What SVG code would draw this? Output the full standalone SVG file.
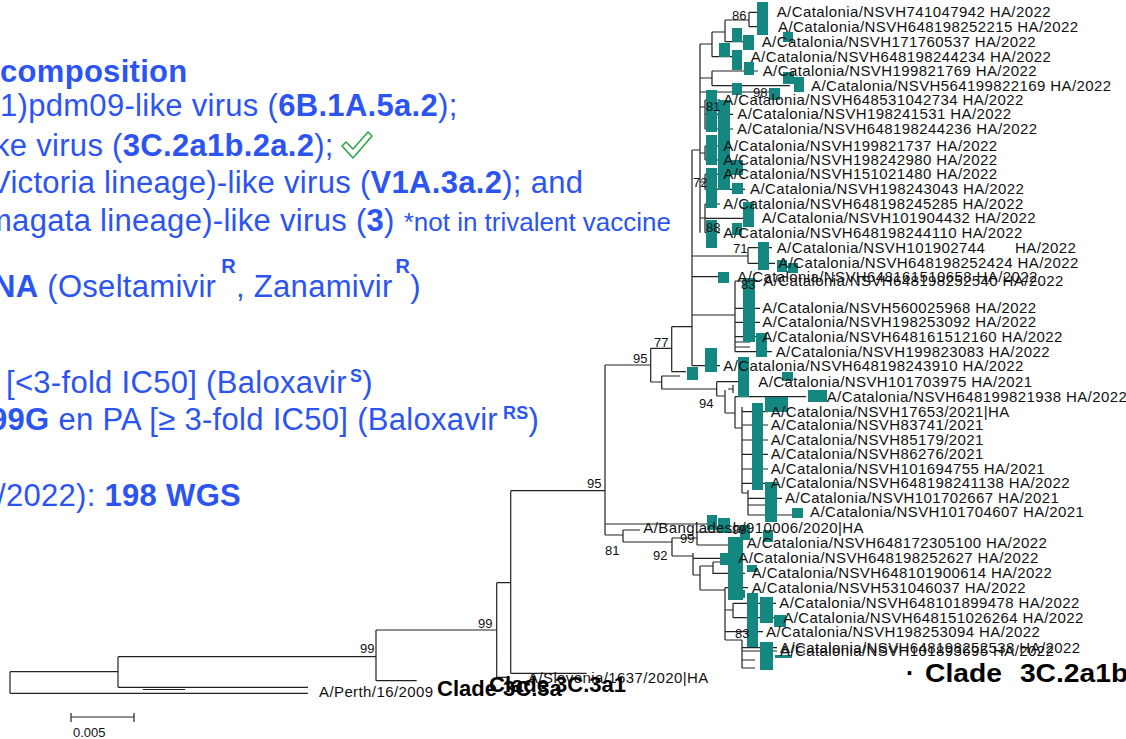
<svg xmlns="http://www.w3.org/2000/svg" width="1126" height="739" viewBox="0 0 1126 739">
<style>
.bl{fill:#2b54f2;font-family:"Liberation Sans",Arial,sans-serif;font-size:31px;letter-spacing:0.3px}
.bd{font-weight:bold}
.tl{fill:#111;font-family:"Liberation Sans",Arial,sans-serif;font-size:15px;letter-spacing:0.4px}
.bs{fill:#111;font-family:"Liberation Sans",Arial,sans-serif;font-size:13px}
.cl{fill:#000;font-family:"Liberation Sans",Arial,sans-serif;font-weight:bold}
.br{fill:none;stroke:#222;stroke-width:1.2}
.tq{fill:#138780}
</style>
<rect width="1126" height="739" fill="#fff"/>
<g id="text-panel">
<text class="bl bd" x="0" y="82" font-size="28" letter-spacing="0.1">composition</text>
<text class="bl" x="0" y="116">1)pdm09-like virus (<tspan class="bd">6B.1A.5a.2</tspan>);</text>
<text class="bl" x="-6" y="156">ke virus (<tspan class="bd">3C.2a1b.2a.2</tspan>);</text>
<polygon points="342,146 346,142 353,149 368,132 372,136 353,158" fill="none" stroke="#2aa84a" stroke-width="1.6" stroke-linejoin="round"/>
<text class="bl" x="-10" y="193">Victoria lineage)-like virus (<tspan class="bd">V1A.3a.2</tspan>); and</text>
<text class="bl" x="-14" y="231">magata lineage)-like virus (<tspan class="bd">3</tspan>) <tspan font-size="26" letter-spacing="0">*not in trivalent vaccine</tspan></text>
<text class="bl" x="-7" y="297"><tspan class="bd">NA</tspan> (Oseltamivir<tspan class="bd" font-size="20" dx="5" dy="-24">R</tspan><tspan dy="24">, Zanamivir</tspan><tspan class="bd" font-size="20" dx="3" dy="-24">R</tspan><tspan dy="24">)</tspan></text>
<text class="bl" x="6" y="393">[&lt;3-fold IC50] (Baloxavir<tspan class="bd" font-size="18" dx="3" dy="-11">S</tspan><tspan dy="11">)</tspan></text>
<text class="bl" x="-10" y="430"><tspan class="bd">99G</tspan> en PA [≥ 3-fold IC50] (Baloxavir<tspan class="bd" font-size="18" dx="5" dy="-11">RS</tspan><tspan dy="11">)</tspan></text>
<text class="bl" x="-3" y="506">/2022): <tspan class="bd">198 WGS</tspan></text>
</g>
<g id="connectors">
<path class="br" d="M10 671.7V693.3M10 671.7H118M10 693.3H308M118 656.7V687.3M118 687.3H308M118 656.7H376M376 630V680.7M376 630H496.7M376 680.7H416.7M496.7 582.7V677.3M496.7 582.7H510.7M496.7 677.3H506.7M510.7 490.7V673.3M510.7 490.7H605M510.7 673.3H586.7
M605 365V535M605 365H650.7M605 524H708M605 535H623M623 530V542M623 530H640M623 542H672M672 538V556M672 538H697M697 532V545M697 532H747M697 545H728M672 556H693M693 553V575M693 558.3H728M693 575H700M700 566V590M700 566H713M713 562V574M713 562H728M713 573.3H745M700 590H725M725 587.7V640M725 587.7H748M725 610H733M733 603.3V617.7M733 603.3H776M733 617.7H780M725 631.7H763M725 640H742M742 640V668M742 647.7H777M742 651H777M742 660H755M742 668H755
M650.7 348.3V382M650.7 348.3H671.7M650.7 382H661.7M661.7 376V389M661.7 376H680M661.7 389H716.7M716.7 381.7V396M716.7 381.7H740M716.7 396H725M725 390V413M728 389H733M733 385V393M725 413H735M735 396.7V428M735 396.7H806M735 428H742M742 407V493M742 411.7H768M742 425H768M742 440H768M742 454.3H768M742 469H768M742 483.3H768M742 493H748M748 490V515M748 498.3H782M748 505H765M748 515H792
M671.7 326.7V371.7M671.7 326.7H692M671.7 371.7H686M692 150V365.7M692 150H700M700 44V232.7
M700 44H712M712 32V56.7M712 32H725M725 20V41.7M725 20H749M749 12.3V26.7M749 12.3H757M749 26.7H757M725 41.7H745M712 56.7H732
M700 78H712M712 71V85.7M712 71H758M712 85.7H790M700 92H770
M700 107H705M705 100V129M705 100H720M705 114.3H733M705 129H733
M700 153H705M705 146V160M705 146H720M705 160H720
M700 182H705M705 174.3V189.3M705 174.3H720M705 189.3H745
M700 218H705M705 204V232.7M705 204H720M705 218.3H745M705 232.7H720
M692 256H748M748 247.7V263.3M748 247.7H772M748 263.3H775M692 276.7H718
M692 315H735M735 281V351.7M735 281H760M735 308.3H760M735 322.3H760M735 336.7H760M735 342H750M735 347H750M735 351.7H772M692 365.7H720"/>
<path class="br" d="M143 689.5H185" stroke-width="0.9"/>
<path class="br" d="M71 717H134M71 713V722M134 713V722"/>
</g>
<g id="highlights">
<rect class="tq" x="757" y="2" width="11" height="33"/>
<rect class="tq" x="783" y="32" width="10" height="10"/>
<rect class="tq" x="732" y="28" width="10" height="14"/>
<rect class="tq" x="743" y="35" width="11" height="15"/>
<rect class="tq" x="719" y="43" width="11" height="14"/>
<rect class="tq" x="732" y="50" width="10" height="20"/>
<rect class="tq" x="744" y="62" width="10" height="13"/>
<rect class="tq" x="783" y="72" width="11" height="12"/>
<rect class="tq" x="794" y="77" width="10" height="15"/>
<rect class="tq" x="732" y="83" width="10" height="12"/>
<rect class="tq" x="769" y="88" width="11" height="12"/>
<rect class="tq" x="706" y="90" width="11" height="42"/>
<rect class="tq" x="718" y="100" width="12" height="90"/>
<rect class="tq" x="706" y="135" width="11" height="30"/>
<rect class="tq" x="706" y="168" width="11" height="40"/>
<rect class="tq" x="730" y="160" width="13" height="15"/>
<rect class="tq" x="732" y="183" width="11" height="11"/>
<rect class="tq" x="743" y="202" width="11" height="25"/>
<rect class="tq" x="732" y="223" width="10" height="12"/>
<rect class="tq" x="706" y="220" width="11" height="28"/>
<rect class="tq" x="758" y="242" width="11" height="28"/>
<rect class="tq" x="777" y="260" width="10" height="12"/>
<rect class="tq" x="788" y="263" width="10" height="10"/>
<rect class="tq" x="718" y="272" width="11" height="11"/>
<rect class="tq" x="743" y="278" width="12" height="64"/>
<rect class="tq" x="756" y="333" width="11" height="24"/>
<rect class="tq" x="705" y="348" width="12" height="24"/>
<rect class="tq" x="687" y="367" width="11" height="13"/>
<rect class="tq" x="738" y="357" width="11" height="40"/>
<rect class="tq" x="782" y="372" width="11" height="9"/>
<rect class="tq" x="808" y="390" width="19" height="12"/>
<rect class="tq" x="765" y="397" width="23" height="15"/>
<rect class="tq" x="752" y="403" width="11" height="87"/>
<rect class="tq" x="765" y="482" width="12" height="40"/>
<rect class="tq" x="792" y="508" width="11" height="10"/>
<rect class="tq" x="707" y="515" width="10" height="15"/>
<rect class="tq" x="718" y="518" width="12" height="15"/>
<rect class="tq" x="740" y="525" width="10" height="15"/>
<rect class="tq" x="763" y="530" width="10" height="12"/>
<rect class="tq" x="728" y="537" width="15" height="63"/>
<rect class="tq" x="720" y="553" width="10" height="12"/>
<rect class="tq" x="747" y="565" width="10" height="7"/>
<rect class="tq" x="732" y="590" width="13" height="8"/>
<rect class="tq" x="747" y="593" width="11" height="17"/>
<rect class="tq" x="760" y="597" width="13" height="26"/>
<rect class="tq" x="747" y="607" width="11" height="40"/>
<rect class="tq" x="774" y="615" width="12" height="12"/>
<rect class="tq" x="760" y="642" width="13" height="28"/>
<rect class="tq" x="775" y="655" width="17" height="3"/>
</g>
<g id="tree-labels">
<text class="tl" x="776.7" y="17.3">A/Catalonia/NSVH741047942 HA/2022</text>
<text class="tl" x="778" y="31.7">A/Catalonia/NSVH648198252215 HA/2022</text>
<text class="tl" x="761.7" y="46.7">A/Catalonia/NSVH171760537 HA/2022</text>
<text class="tl" x="750.7" y="61.7">A/Catalonia/NSVH648198244234 HA/2022</text>
<text class="tl" x="762.7" y="76">A/Catalonia/NSVH199821769 HA/2022</text>
<text class="tl" x="811" y="90.7">A/Catalonia/NSVH564199822169 HA/2022</text>
<text class="tl" x="723.3" y="105">A/Catalonia/NSVH648531042734 HA/2022</text>
<text class="tl" x="737.3" y="119.3">A/Catalonia/NSVH198241531 HA/2022</text>
<text class="tl" x="737" y="134">A/Catalonia/NSVH648198244236 HA/2022</text>
<text class="tl" x="723.3" y="151">A/Catalonia/NSVH199821737 HA/2022</text>
<text class="tl" x="723.3" y="165">A/Catalonia/NSVH198242980 HA/2022</text>
<text class="tl" x="723.3" y="179.3">A/Catalonia/NSVH151021480 HA/2022</text>
<text class="tl" x="750" y="194.3">A/Catalonia/NSVH198243043 HA/2022</text>
<text class="tl" x="723.3" y="209">A/Catalonia/NSVH648198245285 HA/2022</text>
<text class="tl" x="761.7" y="223.3">A/Catalonia/NSVH101904432 HA/2022</text>
<text class="tl" x="723.3" y="237.7">A/Catalonia/NSVH648198244110 HA/2022</text>
<text class="tl" x="776.7" y="252.7">A/Catalonia/NSVH101902744<tspan x="1015">HA/2022</tspan></text>
<text class="tl" x="778.3" y="268.3">A/Catalonia/NSVH648198252424 HA/2022</text>
<text class="tl" x="737.3" y="281.7">A/Catalonia/NSVH648161510658 HA/2022</text>
<text class="tl" x="763.3" y="286">A/Catalonia/NSVH648198252540 HA/2022</text>
<text class="tl" x="762.3" y="313.3">A/Catalonia/NSVH560025968 HA/2022</text>
<text class="tl" x="762.3" y="327.3">A/Catalonia/NSVH198253092 HA/2022</text>
<text class="tl" x="762.3" y="341.7">A/Catalonia/NSVH648161512160 HA/2022</text>
<text class="tl" x="775.7" y="356.7">A/Catalonia/NSVH199823083 HA/2022</text>
<text class="tl" x="723.3" y="370.7">A/Catalonia/NSVH648198243910 HA/2022</text>
<text class="tl" x="758.3" y="386.7">A/Catalonia/NSVH101703975 HA/2021</text>
<text class="tl" x="826.7" y="401.7">A/Catalonia/NSVH648199821938 HA/2022</text>
<text class="tl" x="770.7" y="416.7">A/Catalonia/NSVH17653/2021|HA</text>
<text class="tl" x="770.7" y="430">A/Catalonia/NSVH83741/2021</text>
<text class="tl" x="770.7" y="445">A/Catalonia/NSVH85179/2021</text>
<text class="tl" x="770.7" y="459.3">A/Catalonia/NSVH86276/2021</text>
<text class="tl" x="770.7" y="474">A/Catalonia/NSVH101694755 HA/2021</text>
<text class="tl" x="770.7" y="488.3">A/Catalonia/NSVH648198241138 HA/2022</text>
<text class="tl" x="785" y="503.3">A/Catalonia/NSVH101702667 HA/2021</text>
<text class="tl" x="810" y="517.3">A/Catalonia/NSVH101704607 HA/2021</text>
<text class="tl" x="643.3" y="533.3">A/Bangladesh/910006/2020|HA</text>
<text class="tl" x="746.7" y="548.3">A/Catalonia/NSVH648172305100 HA/2022</text>
<text class="tl" x="738.3" y="563.3">A/Catalonia/NSVH648198252627 HA/2022</text>
<text class="tl" x="751.7" y="578.3">A/Catalonia/NSVH648101900614 HA/2022</text>
<text class="tl" x="751.7" y="592.7">A/Catalonia/NSVH531046037 HA/2022</text>
<text class="tl" x="779.3" y="608.3">A/Catalonia/NSVH648101899478 HA/2022</text>
<text class="tl" x="783.3" y="622.7">A/Catalonia/NSVH648151026264 HA/2022</text>
<text class="tl" x="766" y="636.7">A/Catalonia/NSVH198253094 HA/2022</text>
<text class="tl" x="780" y="652.7">A/Catalonia/NSVH648198252538 HA/2022</text>
<text class="tl" x="780" y="656">A/Catalonia/NSVH101893695 HA/2022</text>
<text class="tl" x="528" y="683.3" letter-spacing="0">A/Slovenia/1637/2020|HA</text>
<text class="tl" x="319" y="696.7">A/Perth/16/2009</text>
</g>
<g id="bootstrap">
<text class="bs" x="732" y="20">86</text>
<text class="bs" x="753" y="97">98</text>
<text class="bs" x="706" y="111">81</text>
<text class="bs" x="693" y="187">72</text>
<text class="bs" x="706" y="232">88</text>
<text class="bs" x="733" y="253">71</text>
<text class="bs" x="741" y="289">83</text>
<text class="bs" x="654" y="347">77</text>
<text class="bs" x="633" y="363">95</text>
<text class="bs" x="699" y="408">94</text>
<text class="bs" x="587" y="488">95</text>
<text class="bs" x="732" y="534">99</text>
<text class="bs" x="680" y="543">99</text>
<text class="bs" x="605" y="555">81</text>
<text class="bs" x="653" y="560">92</text>
<text class="bs" x="735" y="638">83</text>
<text class="bs" x="478" y="628">99</text>
<text class="bs" x="360" y="653">99</text>
<text class="bs" x="73" y="737" font-size="12.5">0.005</text>
</g>
<g id="clades">
<text class="cl" x="437" y="696" font-size="22">Clade 3C.3a</text>
<text class="cl" x="489" y="692" font-size="22">Clade 3C.3a1</text>
<text class="cl" x="906" y="681.7" font-size="25">·</text>
<text class="cl" font-size="25" transform="translate(925 681.7) scale(1.13 1)"><tspan x="0">Clade</tspan><tspan x="84">3C.2a1b</tspan></text>
</g>
</svg>
